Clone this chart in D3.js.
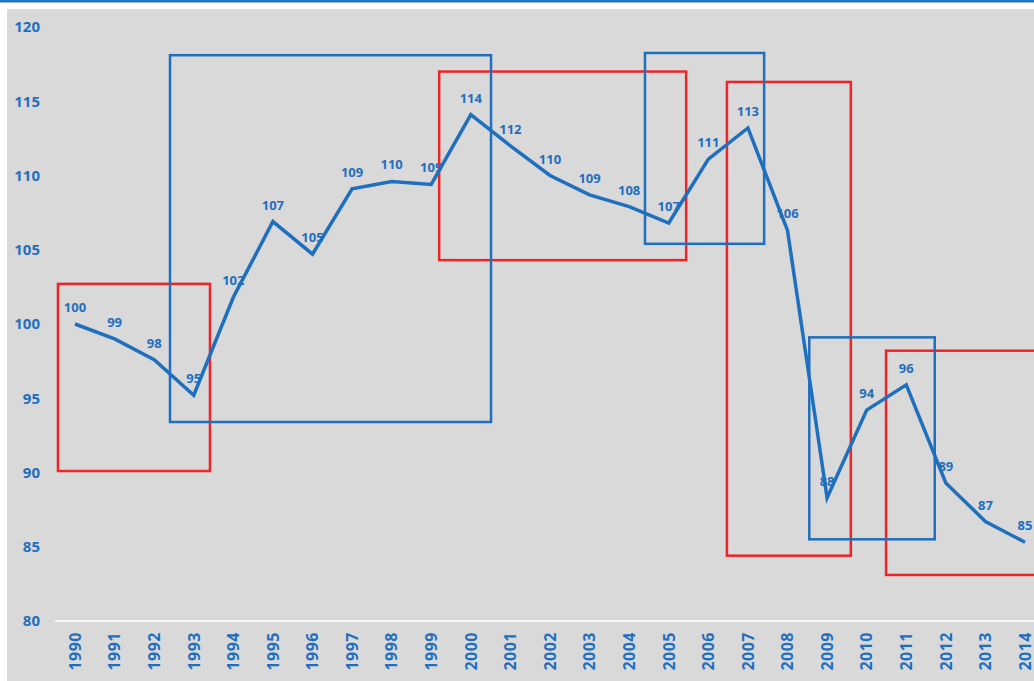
<!DOCTYPE html>
<meta charset="utf-8">
<style>
body { margin: 0; background: #fff; }
text { font-family: "Noto Sans", sans-serif; font-weight: bold; fill: #1f6fbf; }
</style>
<body>
<script src="https://d3js.org/d3.v7.min.js"></script>
<script>

// index values per year
var years = d3.range(1990, 2015);
var values = [100, 99.0, 97.6, 95.2, 101.8, 106.9, 104.7, 109.1, 109.6, 109.4,
              114.1, 112.0, 110.0, 108.7, 107.9, 106.8, 111.1, 113.2, 106.3, 88.3,
              94.2, 95.9, 89.3, 86.7, 85.3];
var yTicks = [80, 85, 90, 95, 100, 105, 110, 115, 120];

// highlight boxes: [year from, year to, value low, value high]
var redBoxes = [
  [1989.57, 1993.41, 90.1, 102.7],
  [1999.2, 2005.44, 104.3, 117.0],
  [2006.47, 2009.6, 84.4, 116.3],
  [2010.49, 2015.2, 83.1, 98.2]
];
var blueBoxes = [
  [1992.4, 2000.51, 93.4, 118.1],
  [2004.4, 2007.41, 105.4, 118.25],
  [2008.55, 2011.72, 85.5, 99.1]
];

var W = 1034, H = 681;
var blue = "#1f6fbf", red = "#ee2428";

var svg = d3.select("body").append("svg")
    .attr("width", W)
    .attr("height", H);

// top rule and grey plot background
svg.append("rect").attr("x", 0).attr("y", 0).attr("width", W).attr("height", 2.5).attr("fill", "#1f72c0");
svg.append("rect").attr("x", 7).attr("y", 9).attr("width", W - 7).attr("height", H - 9).attr("fill", "#d9d9d9");

// scales
var x = d3.scaleBand().domain(years).range([55.2, 1044.8]);
var xl = d3.scaleLinear().domain([1990, 2014]).range([x(1990) + x.bandwidth() / 2, x(2014) + x.bandwidth() / 2]);
var y = d3.scaleLinear().domain([80, 120]).range([621, 27]);

// y axis
var yAxis = svg.append("g")
    .attr("transform", "translate(48,0)")
    .call(d3.axisLeft(y).tickValues(yTicks).tickSize(0).tickPadding(8));
yAxis.select(".domain").remove();
yAxis.selectAll("text").style("font-size", "15px").attr("fill", blue);

// baseline
svg.append("line")
    .attr("x1", 55).attr("x2", W)
    .attr("y1", y(80)).attr("y2", y(80))
    .attr("stroke", "#fff").attr("stroke-width", 1.5);

// x axis
var xAxis = svg.append("g")
    .attr("transform", "translate(0," + y(80) + ")")
    .call(d3.axisBottom(x).tickSize(0));
xAxis.select(".domain").remove();
xAxis.selectAll("text")
    .style("font-size", "16px")
    .style("letter-spacing", "0.5px")
    .attr("fill", blue)
    .attr("transform", "rotate(-90)")
    .attr("x", -11)
    .attr("y", 0)
    .attr("dy", "0.36em")
    .style("text-anchor", "end");

// boxes
function drawBoxes(list, col) {
  svg.append("g").selectAll("rect")
    .data(list)
    .enter().append("rect")
      .attr("x", function(d) { return xl(d[0]); })
      .attr("y", function(d) { return y(d[3]); })
      .attr("width", function(d) { return xl(d[1]) - xl(d[0]); })
      .attr("height", function(d) { return y(d[2]) - y(d[3]); })
      .attr("fill", "none")
      .attr("stroke", col)
      .attr("stroke-width", 2.5);
}
drawBoxes(redBoxes, red);
drawBoxes(blueBoxes, blue);

// line
var pts = years.map(function(yr, i) { return {year: yr, v: values[i]}; });
var line = d3.line()
    .x(function(d) { return xl(d.year); })
    .y(function(d) { return y(d.v); });

svg.append("path")
    .datum(pts)
    .attr("d", line)
    .attr("fill", "none")
    .attr("stroke", blue)
    .attr("stroke-width", 3.5)
    .attr("stroke-linejoin", "miter");

// data labels
svg.append("g").selectAll("text")
    .data(pts)
    .enter().append("text")
      .attr("x", function(d) { return xl(d.year); })
      .attr("y", function(d) { return y(d.v) - 12; })
      .attr("text-anchor", "middle")
      .style("font-size", "13px")
      .text(function(d) { return Math.round(d.v); });

</script>
</body>
